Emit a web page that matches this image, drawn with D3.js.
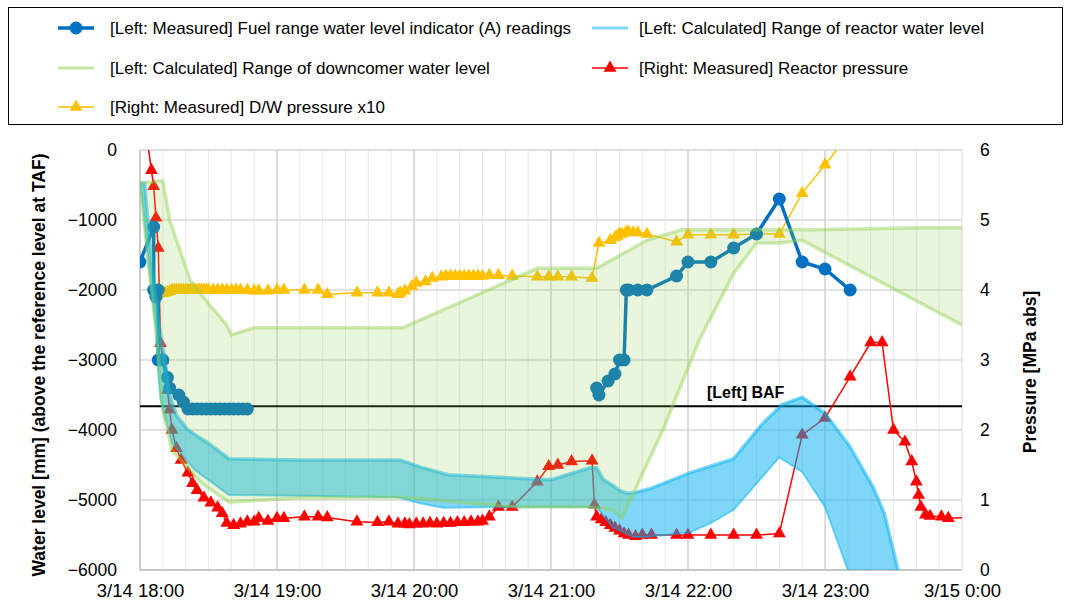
<!DOCTYPE html>
<html>
<head>
<meta charset="utf-8">
<script src="https://cdn.jsdelivr.net/npm/d3@7"></script>
<style>
  body { margin: 0; background: #fff; }
  svg { display: block; }
</style>
</head>
<body>
<div id="chart"></div>
<script>
// fuel range water level indicator (A), mm above TAF (null = no readings)
const fuelTimes = ["18:00","18:06","18:06","18:07","18:08","18:08","18:10","18:12","18:13","18:17","18:19",
  "18:21","18:23","18:25","18:27","18:29","18:31","18:33","18:35","18:37","18:39","18:41","18:43","18:45","18:47",
  "19:30",
  "21:20","21:21","21:25","21:28","21:30","21:32","21:33","21:34","21:38","21:42","21:55","22:00","22:10","22:20",
  "22:30","22:40","22:50","23:00","23:11"];
const fuelLevel = [-1600,-1100,-2000,-2100,-2000,-3000,-3000,-3250,-3400,-3500,-3600,
  -3700,-3700,-3700,-3700,-3700,-3700,-3700,-3700,-3700,-3700,-3700,-3700,-3700,-3700,
  null,
  -3400,-3500,-3300,-3200,-3000,-3000,-2000,-2000,-2000,-2000,-1800,-1600,-1600,-1400,
  -1200,-700,-1600,-1700,-2000];

// calculated range of reactor water level, mm
const rxMaxTimes = ["18:00","18:02","18:05","18:08","18:11","18:13","18:16","18:21","18:30","18:39","19:10","19:54",
  "20:03","20:15","21:00","21:17","21:20","21:23","21:27","21:30","21:33","21:36","21:44","22:01","22:20","22:32",
  "22:41","22:50","23:00","23:11","23:21","23:26","23:32","23:35"];
const rxMax = [-470,-470,-1570,-2430,-3000,-3500,-3790,-4000,-4190,-4410,-4430,-4430,
  -4530,-4640,-4710,-4540,-4540,-4710,-4790,-4860,-4900,-4900,-4830,-4610,-4410,-3930,
  -3640,-3530,-3760,-4240,-4810,-5190,-6000,-6500];
const rxMinTimes = ["18:00","18:01","18:04","18:07","18:08","18:09","18:14","18:24","18:39","19:10","19:53","20:03",
  "20:13","20:38","21:17","21:20","21:27","21:36","21:42","22:01","22:10","22:20","22:40","22:50","23:00","23:10","23:13"];
const rxMin = [-470,-710,-1710,-2570,-3210,-3570,-4190,-4570,-4930,-4940,-4960,-5050,
  -5110,-5100,-5100,-5110,-5390,-5530,-5530,-5460,-5330,-5140,-4390,-4600,-5100,-6000,-6500];

// calculated range of downcomer water level, mm
const dcMaxTimes = ["18:00","18:10","18:13","18:16","18:22","18:30","18:38","18:40","18:50","19:10","19:55","20:54",
  "21:20","21:42","21:57","22:55","23:43","0:00"];
const dcMax = [-470,-440,-1000,-1290,-1860,-2190,-2500,-2640,-2540,-2540,-2540,-1690,
  -1690,-1290,-1140,-1140,-1110,-1110];
const dcMinTimes = ["18:00","18:04","18:07","18:10","18:14","18:27","18:39","19:10","19:54","20:45","21:17","21:27",
  "21:31","21:49","22:05","22:20","22:30","22:40","22:50","0:00"];
const dcMin = [-470,-1710,-2570,-3710,-4290,-4760,-5030,-4970,-4960,-5100,-5100,-5140,
  -5260,-4000,-2710,-1760,-1330,-1330,-1290,-2500];

// measured reactor pressure, MPa abs
const rpvTimes = ["18:00","18:05","18:06","18:07","18:08","18:09","18:10","18:12","18:13","18:14","18:16","18:18",
  "18:21","18:23","18:25","18:28","18:31","18:34","18:36","18:38","18:41","18:44","18:47","18:50","18:52","18:56",
  "19:00","19:03","19:12","19:18","19:22","19:35","19:44","19:49","19:53","19:56","19:58","20:01","20:04","20:07",
  "20:10","20:13","20:16","20:19","20:22","20:25","20:28","20:30","20:33","20:37","20:43","20:54","20:59","21:03",
  "21:09","21:18","21:19","21:20","21:22","21:24","21:26","21:28","21:30","21:32","21:34","21:37","21:40","21:44",
  "21:55","22:00","22:10","22:20","22:30","22:40","22:50","23:00","23:11","23:20","23:25","23:30","23:35","23:38",
  "23:40","23:41","23:42","23:44","23:46","23:51","23:54","0:10"];
const rpvPress = [6.9,5.71,5.48,5.03,4.6,3.24,3.0,2.57,2.29,2.0,1.74,1.57,
  1.39,1.24,1.14,1.03,0.96,0.89,0.81,0.67,0.64,0.66,0.69,0.69,0.74,0.70,
  0.74,0.74,0.76,0.76,0.75,0.69,0.68,0.69,0.66,0.66,0.65,0.66,0.66,0.67,
  0.66,0.67,0.67,0.68,0.68,0.69,0.69,0.70,0.76,0.90,0.90,1.26,1.48,1.50,
  1.55,1.56,0.93,0.76,0.72,0.68,0.64,0.60,0.56,0.52,0.50,0.48,0.50,0.50,
  0.50,0.50,0.50,0.50,0.50,0.52,1.93,2.17,2.76,3.25,3.25,2.00,1.83,1.55,
  1.26,1.07,0.90,0.79,0.77,0.76,0.74,0.76];

// measured D/W pressure x10
const dwTimes = ["18:08","18:09","18:10","18:11","18:12","18:13","18:14","18:15","18:16","18:17","18:18","18:19",
  "18:20","18:21","18:22","18:23","18:24","18:25","18:26","18:27","18:28","18:29","18:30","18:32","18:34","18:36",
  "18:38","18:40","18:42","18:44","18:47","18:50","18:52","18:56","19:00","19:03","19:12","19:18","19:22","19:35",
  "19:44","19:49","19:53","19:54","19:56","19:59","20:01","20:05","20:08","20:12","20:14","20:16","20:18","20:20",
  "20:22","20:24","20:26","20:28","20:30","20:33","20:37","20:43","20:54","20:59","21:03","21:09","21:18","21:21",
  "21:26","21:28","21:29","21:30","21:31","21:33","21:34","21:36","21:38","21:42","21:55","22:00","22:10","22:20",
  "22:30","22:40","22:50","23:00","23:10"];
const dwPress = [3.95,3.96,3.95,3.96,3.97,3.98,4.0,4.0,4.0,4.0,4.0,4.0,
  4.0,4.0,4.0,4.0,4.0,4.0,4.0,4.0,4.0,4.0,4.0,4.0,4.0,4.0,
  4.0,4.0,4.0,4.0,4.0,3.99,3.99,3.99,4.0,4.0,4.0,4.0,3.94,3.96,
  3.96,3.96,3.94,3.96,3.99,4.05,4.1,4.12,4.17,4.19,4.2,4.2,4.2,4.2,
  4.2,4.2,4.2,4.2,4.2,4.21,4.21,4.2,4.19,4.19,4.19,4.19,4.17,4.67,
  4.71,4.75,4.77,4.8,4.8,4.83,4.83,4.82,4.82,4.8,4.69,4.79,4.79,4.79,
  4.8,4.8,5.38,5.79,6.2];

const bafLevel = -3660;
const leftTicks = [0,-1000,-2000,-3000,-4000,-5000,-6000];
const rightTicks = [0,1,2,3,4,5,6];

// clock string -> date (hours before noon belong to 3/15)
function T(s) {
  const [h, m] = s.split(":").map(Number);
  return new Date(2011, 2, h < 12 ? 15 : 14, h, m);
}

const W = 1071, H = 605;
const svg = d3.select("#chart").append("svg").attr("width", W).attr("height", H)
  .style("font-family", "'Liberation Sans', Arial, sans-serif");

const x = d3.scaleTime().domain([T("18:00"), T("0:00")]).range([140, 962]);
const yL = d3.scaleLinear().domain([-6000, 0]).range([570, 150]);
const yR = d3.scaleLinear().domain([0, 6]).range([570, 150]);

// grid
const grid = svg.append("g");
d3.timeMinute.every(10).range(T("18:10"), T("0:00")).forEach(function(d) {
  grid.append("line")
    .attr("x1", x(d)).attr("x2", x(d)).attr("y1", 150).attr("y2", 570)
    .attr("stroke", d.getMinutes() === 0 ? "#d0d0d0" : "#e9e9e9")
    .attr("stroke-width", d.getMinutes() === 0 ? 1.5 : 1);
});
leftTicks.forEach(function(v) {
  grid.append("line")
    .attr("x1", 140).attr("x2", 962).attr("y1", yL(v)).attr("y2", yL(v))
    .attr("stroke", "#d9d9d9").attr("stroke-width", 1.5);
});
grid.append("rect").attr("x", 140).attr("y", 150).attr("width", 822).attr("height", 420)
  .attr("fill", "none").attr("stroke", "#d9d9d9");
grid.append("line").attr("x1", 140).attr("x2", 140).attr("y1", 150).attr("y2", 570).attr("stroke", "#bfbfbf").attr("stroke-width", 1.5);
grid.append("line").attr("x1", 140).attr("x2", 962).attr("y1", 570).attr("y2", 570).attr("stroke", "#bfbfbf").attr("stroke-width", 1.5);

svg.append("clipPath").attr("id", "plot").append("rect")
  .attr("x", 140).attr("y", 150).attr("width", 822).attr("height", 420);
const g = svg.append("g").attr("clip-path", "url(#plot)");

// BAF
g.append("line").attr("x1", 140).attr("x2", 962).attr("y1", yL(bafLevel)).attr("y2", yL(bafLevel))
  .attr("stroke", "#000").attr("stroke-width", 2);

// reactor pressure
const rpv = rpvTimes.map((t, i) => [x(T(t)), yR(rpvPress[i])]);
g.append("path").attr("d", d3.line()(rpv)).attr("fill", "none").attr("stroke", "#ff0000").attr("stroke-width", 1.5);
g.selectAll(".rpv").data(rpv).join("path")
  .attr("transform", d => "translate(" + d[0] + "," + d[1] + ")")
  .attr("d", d3.symbol(d3.symbolTriangle, 72)).attr("fill", "#ff0000");

// D/W pressure
const dw = dwTimes.map((t, i) => [x(T(t)), yR(dwPress[i])]);
g.append("path").attr("d", d3.line()(dw)).attr("fill", "none").attr("stroke", "#ffc000").attr("stroke-width", 1.5);
g.selectAll(".dw").data(dw).join("path")
  .attr("transform", d => "translate(" + d[0] + "," + d[1] + ")")
  .attr("d", d3.symbol(d3.symbolTriangle, 72)).attr("fill", "#ffc000");

// fuel range readings
const fuel = fuelTimes.map((t, i) => [x(T(t)), fuelLevel[i] === null ? null : yL(fuelLevel[i])]);
g.append("path").attr("d", d3.line().defined(d => d[1] !== null)(fuel))
  .attr("fill", "none").attr("stroke", "#0070c0").attr("stroke-width", 3.5);
g.selectAll(".fuel").data(fuel.filter(d => d[1] !== null)).join("circle")
  .attr("cx", d => d[0]).attr("cy", d => d[1]).attr("r", 6.5).attr("fill", "#0070c0");

// calculated ranges, drawn as translucent bands
function band(tMax, vMax, tMin, vMin, color, fillOp, edgeOp, wMax, wMin) {
  const up = tMax.map((t, i) => [x(T(t)), yL(vMax[i])]);
  const lo = tMin.map((t, i) => [x(T(t)), yL(vMin[i])]);
  g.append("path").attr("d", d3.line()(up.concat(lo.slice().reverse())) + "Z")
    .attr("fill", color).attr("fill-opacity", fillOp);
  g.append("path").attr("d", d3.line()(up)).attr("fill", "none")
    .attr("stroke", color).attr("stroke-opacity", edgeOp).attr("stroke-width", wMax);
  g.append("path").attr("d", d3.line()(lo)).attr("fill", "none")
    .attr("stroke", color).attr("stroke-opacity", edgeOp).attr("stroke-width", wMin);
}
band(rxMaxTimes, rxMax, rxMinTimes, rxMin, "#00b0f0", 0.5, 0.5, 3.5, 2);
band(dcMaxTimes, dcMax, dcMinTimes, dcMin, "#92d050", 0.2, 0.45, 3.5, 3.5);

svg.append("text").attr("x", 707).attr("y", 398).style("font-size", "16px").style("font-weight", "bold")
  .text("[Left] BAF");

// axes
const axL = svg.append("g").attr("transform", "translate(140,0)")
  .call(d3.axisLeft(yL).tickValues(leftTicks).tickSize(0).tickPadding(23).tickFormat(d3.format("d")));
const axR = svg.append("g").attr("transform", "translate(962,0)")
  .call(d3.axisRight(yR).tickValues(rightTicks).tickSize(0).tickPadding(18).tickFormat(d3.format("d")));
const axB = svg.append("g").attr("transform", "translate(0,570)")
  .call(d3.axisBottom(x).ticks(d3.timeHour.every(1)).tickSize(0).tickPadding(14)
    .tickFormat(d3.timeFormat("%-m/%-d %-H:%M")));
[axL, axR, axB].forEach(function(a) {
  a.select(".domain").remove();
  a.selectAll("text").style("font-size", "17.5px").style("font-family", "'Liberation Sans', Arial, sans-serif").attr("fill", "#000");
});
axB.selectAll("text").style("font-size", "18.5px");

svg.append("text")
  .attr("transform", "translate(45,365) rotate(-90)")
  .style("text-anchor", "middle").style("font-size", "17.5px").style("font-weight", "bold")
  .text("Water level [mm] (above the reference level at TAF)");
svg.append("text")
  .attr("transform", "translate(1036,372) rotate(-90)")
  .style("text-anchor", "middle").style("font-size", "17.5px").style("font-weight", "bold")
  .text("Pressure [MPa abs]");

// legend
const lg = svg.append("g");
lg.append("rect").attr("x", 8.5).attr("y", 7.5).attr("width", 1054).attr("height", 117)
  .attr("fill", "#fff").attr("stroke", "#000");
const items = [
  {lx: 58, tx: 110, ly: 28, color: "#0070c0", w: 3.5, mark: "circle", text: "[Left: Measured] Fuel range water level indicator (A) readings"},
  {lx: 592, tx: 639, ly: 28, color: "#80d7f7", w: 3, mark: null, text: "[Left: Calculated] Range of reactor water level"},
  {lx: 58, tx: 110, ly: 68, color: "#c8e6a7", w: 3, mark: null, text: "[Left: Calculated] Range of downcomer water level"},
  {lx: 592, tx: 639, ly: 68, color: "#ff0000", w: 1.5, mark: "tri", text: "[Right: Measured] Reactor pressure"},
  {lx: 58, tx: 110, ly: 107, color: "#ffc000", w: 1.5, mark: "tri", text: "[Right: Measured] D/W pressure x10"}
];
items.forEach(function(it) {
  lg.append("line").attr("x1", it.lx).attr("x2", it.lx + 36).attr("y1", it.ly).attr("y2", it.ly)
    .attr("stroke", it.color).attr("stroke-width", it.w);
  if (it.mark === "circle") {
    lg.append("circle").attr("cx", it.lx + 18).attr("cy", it.ly).attr("r", 6.5).attr("fill", it.color);
  } else if (it.mark === "tri") {
    lg.append("path").attr("transform", "translate(" + (it.lx + 18) + "," + it.ly + ")")
      .attr("d", d3.symbol(d3.symbolTriangle, 72)).attr("fill", it.color);
  }
  lg.append("text").attr("x", it.tx).attr("y", it.ly).attr("dy", "0.35em")
    .style("font-size", "17px").text(it.text);
});
</script>
</body>
</html>
